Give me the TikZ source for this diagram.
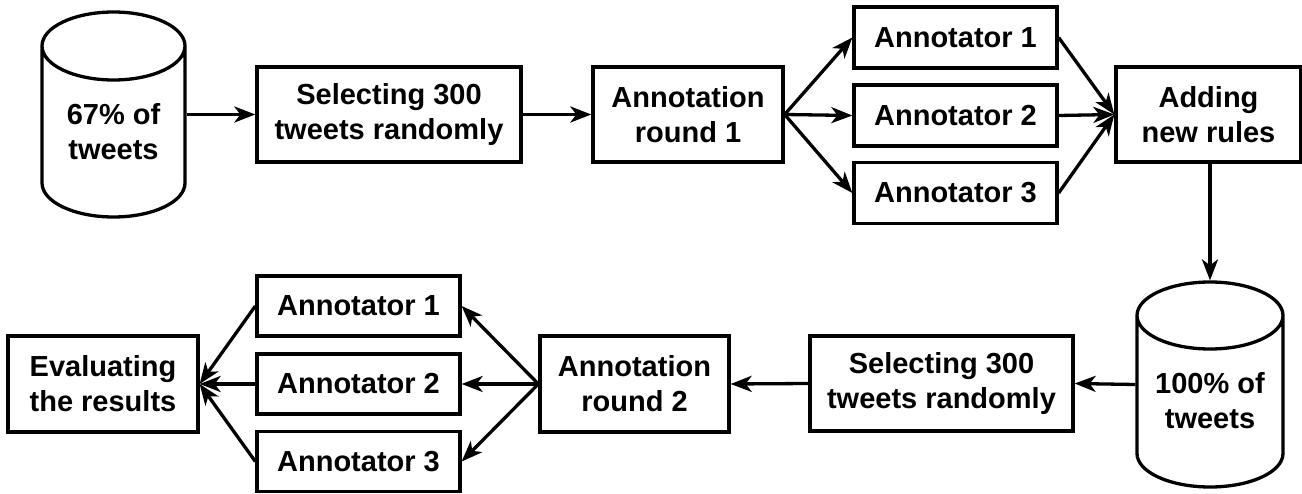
\documentclass[tikz,border=0pt]{standalone}
\usepackage{fontspec}
\setmainfont{Liberation Sans}
\usetikzlibrary{arrows.meta}
\begin{document}
\begin{tikzpicture}[x=1pt,y=1pt,
  lbl/.style={font=\bfseries\fontsize{29}{35}\selectfont, align=center, inner sep=0pt},
  box/.style={lbl, draw, line width=3.3pt},
  dbshape/.style={inner sep=0pt, outer sep=1.6pt},
  ln/.style={line width=3.3pt, line join=round},
  arr/.style={line width=3.3pt, -{Stealth[length=21pt,width=16pt,inset=6pt]}}]
\useasboundingbox[fill=white] (0,0) rectangle (1302,-494);

% top row
\node[dbshape, minimum width=143pt, minimum height=205pt] (db1) at (113.5,-114.5) {};
\draw[ln] ([shift={(-71.5,68.5)}]db1.center) arc[start angle=180,end angle=-180,x radius=71.5,y radius=34]
  -- ([shift={(-71.5,-68.5)}]db1.center) arc[start angle=180,end angle=360,x radius=71.5,y radius=34]
  -- ([shift={(71.5,68.5)}]db1.center);
\node[lbl] (db1t) at (113.5,-131.5) {67\% of\\tweets};

\node[box, minimum width=264pt, minimum height=95pt] (sel1) at (389,-114.5) {Selecting 300\\tweets randomly};
\node[box, minimum width=190pt, minimum height=95pt] (ann1) at (688,-114.5) {Annotation\\round 1};
\node[box, minimum width=203pt, minimum height=61pt] (a1t) at (955.5,-37.5) {Annotator 1};
\node[box, minimum width=203pt, minimum height=61pt] (a2t) at (955.5,-115.5) {Annotator 2};
\node[box, minimum width=203pt, minimum height=61pt] (a3t) at (955.5,-193) {Annotator 3};
\node[box, minimum width=185pt, minimum height=95pt] (add) at (1208.5,-114.5) {Adding\\new rules};

% bottom row
\node[dbshape, minimum width=146pt, minimum height=205pt] (db2) at (1210,-384.5) {};
\draw[ln] ([shift={(-73,69)}]db2.center) arc[start angle=180,end angle=-180,x radius=73,y radius=33.5]
  -- ([shift={(-73,-69)}]db2.center) arc[start angle=180,end angle=360,x radius=73,y radius=33.5]
  -- ([shift={(73,69)}]db2.center);
\node[lbl] (db2t) at (1210,-400.5) {100\% of\\tweets};

\node[box, minimum width=263pt, minimum height=95pt] (sel2) at (941.5,-383.5) {Selecting 300\\tweets randomly};
\node[box, minimum width=189pt, minimum height=96pt] (ann2) at (634.5,-384) {Annotation\\round 2};
\node[box, minimum width=203pt, minimum height=60pt] (a1b) at (358.5,-306) {Annotator 1};
\node[box, minimum width=203pt, minimum height=60pt] (a2b) at (358.5,-384) {Annotator 2};
\node[box, minimum width=203pt, minimum height=60pt] (a3b) at (358.5,-461.5) {Annotator 3};
\node[box, minimum width=190pt, minimum height=96pt] (eval) at (103,-384) {Evaluating\\the results};

% connectors
\draw[arr] (db1.east) -- (sel1.west);
\draw[arr] (sel1.east) -- (ann1.west);
\draw[arr] (ann1.east) -- (a1t.west);
\draw[arr] (ann1.east) -- (a2t.west);
\draw[arr] (ann1.east) -- (a3t.west);
\draw[arr] (a1t.east) -- (add.west);
\draw[arr] (a2t.east) -- (add.west);
\draw[arr] (a3t.east) -- (add.west);
\draw[arr] (db2.north |- add.south) -- (db2.north);
\draw[arr] (db2.west) -- (sel2.east);
\draw[arr] (sel2.west) -- (ann2.east);
\draw[arr] (ann2.west) -- (a1b.east);
\draw[arr] (ann2.west) -- (a2b.east);
\draw[arr] (ann2.west) -- (a3b.east);
\draw[arr] (a1b.west) -- (eval.east);
\draw[arr] (a2b.west) -- (eval.east);
\draw[arr] (a3b.west) -- (eval.east);
\end{tikzpicture}
\end{document}
